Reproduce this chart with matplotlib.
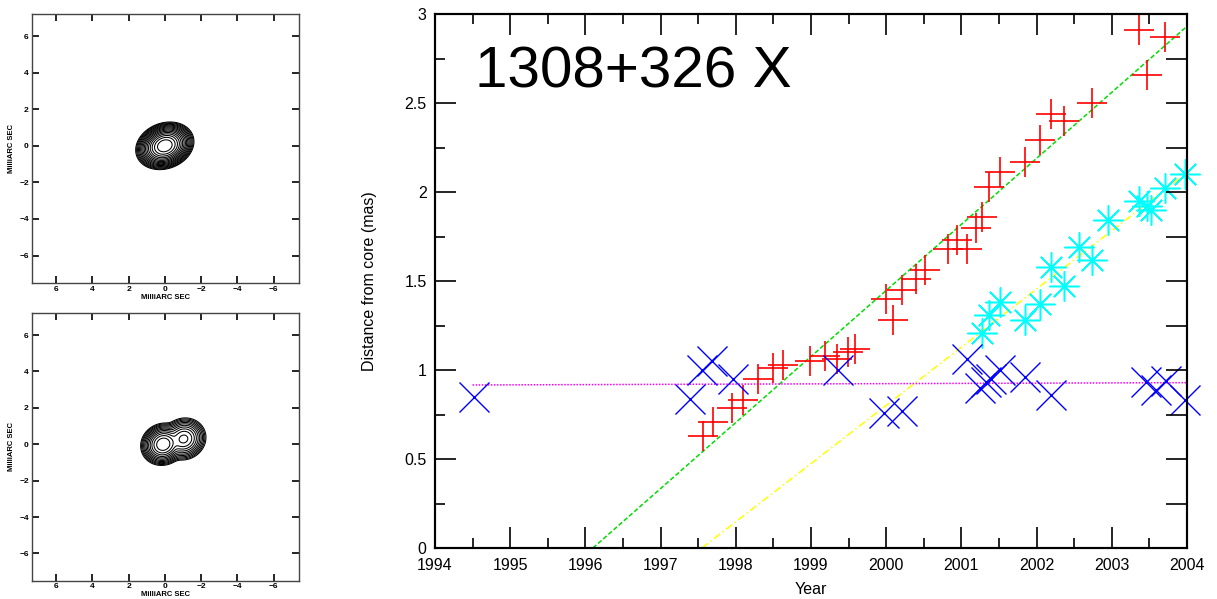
import numpy as np
import matplotlib
matplotlib.use("Agg")
import matplotlib.pyplot as plt
from matplotlib.ticker import MultipleLocator, FormatStrFormatter

plt.rcParams['font.family'] = ['Liberation Sans', 'DejaVu Sans']

# component positions (mas from core) vs epoch
red_year = [1997.57, 1997.70, 1997.95, 1998.10, 1998.30, 1998.49, 1998.63, 1998.99,
            1999.19, 1999.34, 1999.49, 1999.59, 2000.00, 2000.09, 2000.21, 2000.40,
            2000.52, 2000.82, 2000.94, 2001.08, 2001.20, 2001.28, 2001.37, 2001.52,
            2001.84, 2002.05, 2002.19, 2002.36, 2002.74, 2003.36, 2003.47, 2003.71]
red_dist = [0.63, 0.71, 0.785, 0.83, 0.95, 1.01, 1.03, 1.05,
            1.08, 1.06, 1.10, 1.12, 1.40, 1.28, 1.45, 1.51,
            1.56, 1.68, 1.73, 1.68, 1.80, 1.86, 2.03, 2.11,
            2.17, 2.29, 2.44, 2.40, 2.50, 2.91, 2.66, 2.87]

cyan_year = [2001.28, 2001.37, 2001.52, 2001.84, 2002.05, 2002.19, 2002.36, 2002.57,
             2002.74, 2002.95, 2003.36, 2003.47, 2003.52, 2003.71, 2003.97]
cyan_dist = [1.21, 1.31, 1.38, 1.28, 1.37, 1.58, 1.47, 1.69,
             1.62, 1.84, 1.95, 1.92, 1.90, 2.02, 2.10]

blue_year = [1994.52, 1997.39, 1997.55, 1997.68, 1997.97, 1999.36, 1999.97, 2000.21,
             2001.07, 2001.25, 2001.33, 2001.40, 2001.52, 2001.84, 2002.19, 2003.46,
             2003.59, 2003.72, 2003.97]
blue_dist = [0.85, 0.84, 1.00, 1.05, 0.95, 1.00, 0.76, 0.77,
             1.06, 0.90, 0.93, 0.95, 1.00, 0.96, 0.86, 0.93,
             0.89, 0.94, 0.83]

# linear fits: zero-separation epoch and speed (mas/yr)
green_t0, green_v, green_end = 1996.10, 0.371, 2004.0
yellow_t0, yellow_v, yellow_end = 1997.55, 0.327, 2003.9
magenta_years = [1994.5, 2004.0]
magenta_dist = [0.916, 0.929]

# gaussian components for the two maps: flux, u (mas, shown reversed), v, sig_maj, sig_min, angle (deg)
map1_flux = [1.0]
map1_u = [0.0]
map1_v = [0.0]
map1_smaj = [0.35]
map1_smin = [0.265]
map1_ang = [20.0]
map1_nlev = 16

map2_flux = [1.0, 0.32]
map2_u = [-0.09, 1.04]
map2_v = [0.0, 0.29]
map2_smaj = [0.31, 0.33]
map2_smin = [0.28, 0.30]
map2_ang = [25.0, 25.0]
map2_nlev = 12

year_ticks = list(range(1994, 2005))


def draw_map(ax, flux, u0, v0, smaj, smin, ang, nlev):
    xs = np.linspace(7.4, -7.4, 500)
    ys = np.linspace(-7.5, 7.2, 500)
    X, Y = np.meshgrid(xs, ys)
    U = -X
    img = np.zeros_like(X)
    for f, cu, cv, a, b, t in zip(flux, u0, v0, smaj, smin, ang):
        th = np.radians(t)
        du, dv = U - cu, Y - cv
        p = du * np.cos(th) + dv * np.sin(th)
        q = -du * np.sin(th) + dv * np.cos(th)
        img += f * np.exp(-0.5 * (p / a) ** 2 - 0.5 * (q / b) ** 2)
    levels = img.max() * 0.5 ** np.arange(nlev, 0, -1)
    ax.contour(X, Y, img, levels=levels, colors='black', linewidths=0.75)
    ax.set_xlim(7.35, -7.4)
    ax.set_ylim(-7.5, 7.2)
    ax.xaxis.set_major_locator(MultipleLocator(2))
    ax.yaxis.set_major_locator(MultipleLocator(2))
    ax.tick_params(direction='in', length=5, width=1.2, top=True, right=True,
                   labelsize=6, pad=2)
    for lab in ax.get_xticklabels() + ax.get_yticklabels():
        lab.set_fontweight('bold')
    for s in ax.spines.values():
        s.set_linewidth(1.0)
        s.set_color('#444444')
    ax.set_xlabel("MilliARC SEC", fontsize=5.5, fontweight='bold')
    ax.set_ylabel("MilliARC SEC", fontsize=5.5, fontweight='bold')
    ax.xaxis.set_label_coords(0.5, -0.042)
    ax.yaxis.set_label_coords(-0.062, 0.5)


fig = plt.figure(figsize=(12.17, 5.99), dpi=100)

ax_top = fig.add_axes([0.026, 0.5275, 0.2196, 0.449])
draw_map(ax_top, map1_flux, map1_u, map1_v, map1_smaj, map1_smin, map1_ang, map1_nlev)
ax_bot = fig.add_axes([0.026, 0.0306, 0.2196, 0.4464])
draw_map(ax_bot, map2_flux, map2_u, map2_v, map2_smaj, map2_smin, map2_ang, map2_nlev)
ax_bot.xaxis.set_label_coords(0.5, -0.038)

ax = fig.add_axes([0.3574, 0.0851, 0.6179, 0.8915])

gx = np.array([green_t0, green_end])
ax.plot(gx, green_v * (gx - green_t0), color='#00dd00', ls=(0, (3, 1.5)), lw=1.1)
yx = np.array([yellow_t0, yellow_end])
ax.plot(yx, yellow_v * (yx - yellow_t0), color='#ffff00', ls=(0, (5, 2, 1, 2)), lw=1.1)
ax.plot(magenta_years, magenta_dist, color='#ff00ff', ls=(0, (1, 1)), lw=1.1)

ax.plot(red_year, red_dist, ls='none', marker='+', ms=21.6, mew=1.2, color='#ff0000', clip_on=False)
ax.plot(cyan_year, cyan_dist, ls='none', marker=(8, 2, 0), ms=21.6, mew=1.1, color='#00ffff', clip_on=False)
ax.plot(blue_year, blue_dist, ls='none', marker='x', ms=21.6, mew=1.0, color='#0000ff', clip_on=False)

ax.set_xlim(1994, 2004)
ax.set_ylim(0, 3)
ax.set_xticks(year_ticks)
ax.xaxis.set_minor_locator(MultipleLocator(0.5))
ax.yaxis.set_major_locator(MultipleLocator(0.5))
ax.yaxis.set_minor_locator(MultipleLocator(0.25))
ax.yaxis.set_major_formatter(FormatStrFormatter('%g'))
ax.tick_params(which='major', direction='in', length=15, width=1.2, top=True, right=False,
               labelsize=11.5)
ax.tick_params(which='minor', direction='in', length=7.5, width=1.2, top=True, right=False)
ax.tick_params(axis='x', pad=7)
ax.tick_params(axis='y', pad=6)
for s in ax.spines.values():
    s.set_linewidth(1.5)

ax2 = ax.twinx()
ax2.set_ylim(0, 3)
ax2.yaxis.set_major_locator(MultipleLocator(0.25))
ax2.tick_params(direction='in', length=15, width=1.2, labelright=False)
for s in ax2.spines.values():
    s.set_linewidth(1.5)

ax.set_xlabel("Year", fontsize=11.5)
ax.set_ylabel("Distance from core (mas)", fontsize=11.5)
ax.xaxis.set_label_coords(0.5, -0.063)
ax.yaxis.set_label_coords(-0.077, 0.5)

ax.text(0.053, 0.863, "1308+326 X", transform=ax.transAxes, fontsize=42,
        ha='left', va='baseline')

fig.savefig("out.png", dpi=100)
